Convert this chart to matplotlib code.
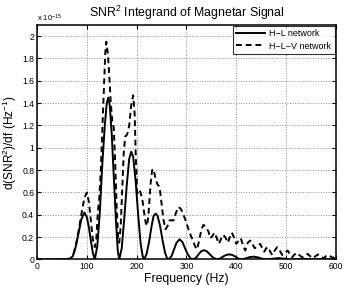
import matplotlib
matplotlib.use("Agg")
import matplotlib.pyplot as plt
from matplotlib.ticker import FuncFormatter

plt.rcParams["font.family"] = ["Liberation Sans", "DejaVu Sans"]
plt.rcParams["mathtext.fontset"] = "custom"
plt.rcParams["mathtext.rm"] = "Liberation Sans"
plt.rcParams["mathtext.it"] = "Liberation Sans:italic"

# values in units of 1e-15 Hz^-1
freq_hl = [0, 40, 50, 60, 66, 72, 78, 84, 89, 95, 100, 104, 108, 112, 116,
           121, 126, 131, 136, 140, 143, 146, 150, 154, 158, 162, 165,
           170, 175, 180, 185, 189, 193, 198, 203, 208, 212, 215,
           220, 225, 230, 234, 238, 242, 247, 252, 257, 261, 264,
           270, 275, 280, 286, 292, 297, 302, 308, 313,
           319, 325, 330, 335, 341, 347, 353, 361,
           368, 375, 381, 386, 392, 398, 404, 410,
           418, 426, 435, 444, 452, 460,
           472, 485, 498, 510, 522, 535, 548, 560, 572, 585, 598, 600]
snr_hl = [0, 0, 0.003, 0.004, 0.006, 0.03, 0.12, 0.25, 0.36, 0.42, 0.38, 0.29, 0.17, 0.06, 0,
          0.12, 0.42, 0.85, 1.2, 1.40, 1.45, 1.38, 1.12, 0.75, 0.38, 0.08, 0,
          0.1, 0.36, 0.66, 0.9, 0.965, 0.92, 0.7, 0.4, 0.14, 0.03, 0,
          0.05, 0.16, 0.3, 0.39, 0.41, 0.39, 0.3, 0.17, 0.06, 0.01, 0,
          0.03, 0.09, 0.15, 0.18, 0.155, 0.1, 0.05, 0.01, 0,
          0.015, 0.05, 0.075, 0.083, 0.072, 0.045, 0.018, 0,
          0.01, 0.03, 0.042, 0.045, 0.04, 0.025, 0.008, 0,
          0.008, 0.02, 0.025, 0.018, 0.006, 0,
          0.006, 0.012, 0.006, 0, 0.003, 0.006, 0.003, 0, 0.002, 0.003, 0.001, 0]

freq_hlv = [0, 40, 50, 60, 68, 74, 79, 84, 90, 95, 100, 104, 108, 112, 116,
            119, 122, 125, 128, 131, 134, 137, 139, 142, 145, 148, 151, 154,
            157, 160, 163, 165, 168, 171, 174, 177, 181, 185, 189, 193, 196,
            198, 201, 204, 207, 211, 215, 218, 221, 224, 228, 231, 234, 238,
            242, 246, 250, 254, 258, 262, 266, 270, 274, 279, 284, 289, 294,
            299, 304, 309, 313, 317, 321, 325, 330, 334, 339, 344, 348, 352,
            356, 360, 365, 370, 374, 379, 383, 387, 391, 395, 400, 405, 409,
            414, 418, 423, 428, 433, 437, 442, 448, 452, 456, 460, 464, 468,
            472, 477, 482, 487, 492, 498, 503, 507, 512, 516, 521, 526, 532,
            538, 543, 548, 554, 559, 564, 569, 575, 580, 585, 590, 594, 598, 600]
snr_hlv = [0, 0, 0.002, 0.004, 0.01, 0.06, 0.15, 0.27, 0.43, 0.55, 0.60, 0.52, 0.35, 0.18, 0.11,
           0.18, 0.42, 0.55, 0.8, 1.16, 1.5, 1.85, 1.95, 1.85, 1.65, 1.4, 1.24, 1.18,
           0.85, 0.45, 0.18, 0.15, 0.3, 0.62, 0.95, 1.10, 1.12, 1.2, 1.38, 1.47, 1.3,
           0.95, 0.6, 0.58, 0.61, 0.55, 0.42, 0.33, 0.30, 0.42, 0.68, 0.8, 0.81, 0.72,
           0.67, 0.65, 0.5, 0.35, 0.27, 0.30, 0.35, 0.35, 0.35, 0.42, 0.47, 0.45, 0.40,
           0.34, 0.27, 0.21, 0.17, 0.12, 0.09, 0.16, 0.27, 0.31, 0.29, 0.25, 0.19, 0.21,
           0.24, 0.2, 0.14, 0.19, 0.22, 0.19, 0.15, 0.2, 0.24, 0.2, 0.14, 0.17, 0.19,
           0.12, 0.08, 0.15, 0.17, 0.13, 0.10, 0.12, 0.14, 0.1, 0.07, 0.1, 0.11, 0.07,
           0.04, 0.08, 0.11, 0.08, 0.04, 0.06, 0.08, 0.05, 0.02, 0.04, 0.06, 0.04, 0.02,
           0.03, 0.05, 0.03, 0.01, 0.03, 0.045, 0.03, 0.01, 0.03, 0.04, 0.025, 0.01, 0.03, 0.03]

xticks = [0, 100, 200, 300, 400, 500, 600]
yticks = [0, 0.2, 0.4, 0.6, 0.8, 1.0, 1.2, 1.4, 1.6, 1.8, 2.0]

fig = plt.figure(figsize=(3.46, 2.87), dpi=100)
ax = fig.add_axes([0.107, 0.096, 0.864, 0.817])

ax.plot(freq_hl, snr_hl, color="black", linewidth=1.4, label="H\u2212L network")
ax.plot(freq_hlv, snr_hlv, color="black", linewidth=1.4, linestyle=(0, (3, 2)),
        label="H\u2212L\u2212V network")

ax.set_xlim(0, 600)
ax.set_ylim(0, 2.1)
ax.set_xticks(xticks)
ax.set_yticks(yticks)
ax.yaxis.set_major_formatter(FuncFormatter(lambda v, p: f"{v:g}"))
ax.tick_params(direction="in", top=True, right=True, length=3, width=0.8,
               labelsize=6.2, pad=2)
for s in ax.spines.values():
    s.set_linewidth(1.1)
ax.grid(True, linestyle=":", color="0.55", linewidth=0.7)

ax.set_title("SNR$^2$ Integrand of Magnetar Signal", fontsize=8.9, pad=6)
ax.set_xlabel("Frequency (Hz)", fontsize=8.8, labelpad=1)
ax.set_ylabel("d(SNR$^2$)/df (Hz$^{-1}$)", fontsize=8.6, labelpad=2)
ax.text(0.0, 1.006, "x 10$^{-15}$", transform=ax.transAxes, fontsize=5.5,
        ha="left", va="bottom")

leg = ax.legend(loc="upper right", fontsize=6.5, frameon=True, fancybox=False,
                edgecolor="black", borderpad=0.35, handlelength=3.2,
                handletextpad=0.5, labelspacing=0.35, borderaxespad=0.15)
leg.get_frame().set_linewidth(0.8)

fig.savefig("out.png", dpi=100)
